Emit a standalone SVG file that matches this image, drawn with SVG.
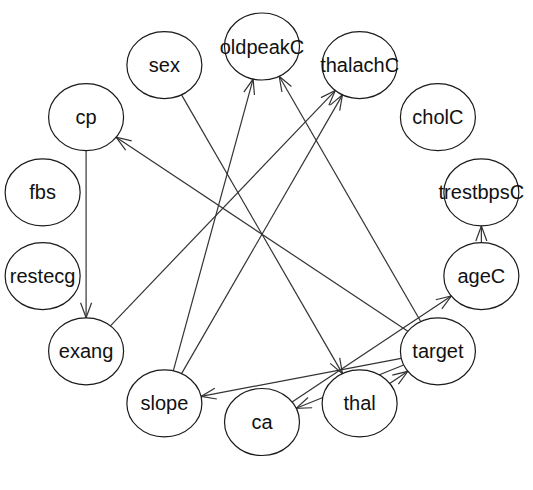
<svg xmlns="http://www.w3.org/2000/svg" width="533" height="490" viewBox="0 0 533 490">
  <style>
    .edge { stroke: #333; stroke-width: 1.2; fill: none; marker-end: url(#arrow); }
    .node ellipse { fill: #fff; stroke: #1a1a1a; stroke-width: 1.2; }
    .node text { font-family: "Liberation Sans", Arial, sans-serif; font-size: 20px; fill: #111; text-anchor: middle; }
  </style>
  <defs>
    <!-- open V arrowhead, tip at the line end -->
    <marker id="arrow" markerUnits="userSpaceOnUse" orient="auto" refX="0" refY="0" markerWidth="40" markerHeight="40" overflow="visible">
      <path d="M -15,-5.5 L 0,0 L -15,5.5" fill="none" stroke="#333" stroke-width="1.2"/>
    </marker>
  </defs>

  <!-- arcs, clipped to the ellipse borders -->
  <g id="edges">
    <line class="edge" x1="86.09" y1="150.69" x2="86.09" y2="317.81"/>
    <line class="edge" x1="407.84" y1="331.30" x2="116.16" y2="137.20"/>
    <line class="edge" x1="110.44" y1="325.83" x2="335.27" y2="90.57"/>
    <line class="edge" x1="181.56" y1="373.63" x2="342.44" y2="94.87"/>
    <line class="edge" x1="173.28" y1="370.87" x2="253.10" y2="79.04"/>
    <line class="edge" x1="420.73" y1="321.54" x2="279.18" y2="76.27"/>
    <line class="edge" x1="181.56" y1="94.87" x2="342.44" y2="373.63"/>
    <line class="edge" x1="401.23" y1="358.30" x2="201.06" y2="396.42"/>
    <line class="edge" x1="403.71" y1="365.05" x2="296.20" y2="408.26"/>
    <line class="edge" x1="389.69" y1="383.40" x2="407.84" y2="371.30"/>
    <line class="edge" x1="292.07" y1="401.99" x2="451.29" y2="296.04"/>
    <line class="edge" x1="481.36" y1="242.53" x2="481.36" y2="225.97"/>
  </g>

  <g id="oldpeakC" class="node"><ellipse cx="262" cy="46.5" rx="37.5" ry="33.5"/><text x="262" y="53.5">oldpeakC</text></g>
  <g id="thalachC" class="node"><ellipse cx="359.62" cy="65.09" rx="37.5" ry="33.5"/><text x="359.62" y="72.09">thalachC</text></g>
  <g id="cholC" class="node"><ellipse cx="437.91" cy="117.19" rx="37.5" ry="33.5"/><text x="437.91" y="124.19">cholC</text></g>
  <g id="trestbpsC" class="node"><ellipse cx="481.36" cy="192.47" rx="37.5" ry="33.5"/><text x="481.36" y="199.47">trestbpsC</text></g>
  <g id="ageC" class="node"><ellipse cx="481.36" cy="276.03" rx="37.5" ry="33.5"/><text x="481.36" y="283.03">ageC</text></g>
  <g id="target" class="node"><ellipse cx="437.91" cy="351.31" rx="37.5" ry="33.5"/><text x="437.91" y="358.31">target</text></g>
  <g id="thal" class="node"><ellipse cx="359.62" cy="403.41" rx="37.5" ry="33.5"/><text x="359.62" y="410.41">thal</text></g>
  <g id="ca" class="node"><ellipse cx="262" cy="422" rx="37.5" ry="33.5"/><text x="262" y="429">ca</text></g>
  <g id="slope" class="node"><ellipse cx="164.38" cy="403.41" rx="37.5" ry="33.5"/><text x="164.38" y="410.41">slope</text></g>
  <g id="exang" class="node"><ellipse cx="86.09" cy="351.31" rx="37.5" ry="33.5"/><text x="86.09" y="358.31">exang</text></g>
  <g id="restecg" class="node"><ellipse cx="42.64" cy="276.03" rx="37.5" ry="33.5"/><text x="42.64" y="283.03">restecg</text></g>
  <g id="fbs" class="node"><ellipse cx="42.64" cy="192.47" rx="37.5" ry="33.5"/><text x="42.64" y="199.47">fbs</text></g>
  <g id="cp" class="node"><ellipse cx="86.09" cy="117.19" rx="37.5" ry="33.5"/><text x="86.09" y="124.19">cp</text></g>
  <g id="sex" class="node"><ellipse cx="164.38" cy="65.09" rx="37.5" ry="33.5"/><text x="164.38" y="72.09">sex</text></g>
</svg>
